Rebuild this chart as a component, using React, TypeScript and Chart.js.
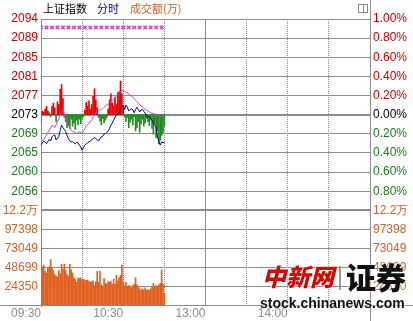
import React, { useEffect, useRef } from 'react';
import { Chart, registerables } from 'chart.js';

Chart.register(...registerables);

// ---------- data ----------
const PREV_CLOSE = 2073.4;
const MARKER_LEVEL = 2092.3;
const VOL_MAX = 121748;

const minutes = [
  0, 1, 2, 3, 4, 5, 6, 7, 8, 9, 10, 11, 12, 13, 14, 15, 16, 17, 18, 19,
  20, 21, 22, 23, 24, 25, 26, 27, 28, 29, 30, 31, 32, 33, 34, 35, 36, 37, 38, 39,
  40, 41, 42, 43, 44, 45, 46, 47, 48, 49, 50, 51, 52, 53, 54, 55, 56, 57, 58, 59,
  60, 61, 62, 63, 64, 65, 66, 67, 68, 69, 70, 71, 72, 73, 74, 75, 76, 77, 78, 79,
  80, 81, 82, 83, 84, 85, 86, 87, 88, 89, 90,
];

const priceLine = [
  2066.8, 2067.3, 2067.7, 2067.4, 2067.1, 2067.6, 2068.0, 2067.7, 2068.6, 2068.9,
  2069.0, 2067.9, 2068.2, 2068.7, 2070.0, 2071.1, 2070.6, 2070.2, 2069.7, 2068.9,
  2068.2, 2067.7, 2067.5, 2067.6, 2067.3, 2067.1, 2067.4, 2067.3, 2066.8, 2066.4,
  2065.7, 2066.3, 2066.8, 2067.1, 2067.3, 2067.5, 2067.7, 2067.9, 2068.2, 2068.4,
  2068.2, 2068.0, 2067.7, 2068.2, 2068.6, 2068.7, 2069.2, 2069.3, 2069.6, 2069.8,
  2070.4, 2071.1, 2071.6, 2072.2, 2072.8, 2073.3, 2073.7, 2073.8, 2074.5, 2075.1,
  2075.5, 2074.5, 2075.5, 2075.0, 2074.2, 2074.5, 2074.7, 2074.4, 2073.8, 2074.5,
  2075.0, 2074.5, 2074.0, 2074.4, 2074.5, 2074.1, 2073.7, 2073.2, 2072.8, 2073.0,
  2072.6, 2072.2, 2071.5, 2071.1, 2070.6, 2068.6, 2067.5, 2066.8, 2067.5, 2067.3,
  2067.4,
];

const avgLine = [
  2067.5, 2067.8, 2068.0, 2068.6, 2069.0, 2069.5, 2070.0, 2070.6, 2071.1, 2070.9,
  2070.6, 2071.2, 2071.8, 2072.6, 2073.3, 2074.0, 2074.4, 2073.7, 2072.6, 2071.8,
  2071.1, 2070.6, 2070.0, 2069.8, 2069.7, 2069.5, 2069.3, 2069.5, 2069.7, 2069.5,
  2069.3, 2069.8, 2070.4, 2070.9, 2071.3, 2071.6, 2071.8, 2072.3, 2072.9, 2073.3,
  2073.8, 2074.0, 2074.2, 2074.4, 2074.5, 2074.7, 2075.0, 2075.3, 2075.5, 2075.7,
  2076.0, 2076.3, 2076.5, 2076.8, 2077.1, 2077.4, 2077.7, 2078.1, 2078.4, 2078.6,
  2078.7, 2078.5, 2078.3, 2078.1, 2077.9, 2077.6, 2077.4, 2077.2, 2076.9, 2076.5,
  2076.2, 2075.9, 2075.5, 2075.3, 2075.0, 2074.7, 2074.5, 2074.4, 2074.2, 2074.0,
  2073.8, 2073.7, 2073.6, 2073.5, 2073.3, 2073.2, 2073.2, 2073.1, 2073.0, 2073.0,
  2072.9,
];

// buy/sell strength bars, index points relative to previous close
const strength = [
  -2.0, 0.8, 0.5, 1.2, 1.8, 0.8, 0.4, -0.5, 1.8, 2.5,
  1.5, -1.5, 2.8, 2.2, 5.5, 6.5, 3.5, -0.6, -1.5, -2.8,
  -2.2, -3.0, -1.0, -2.5, -1.8, -3.2, -1.2, -2.2, -1.0, -2.0,
  -0.8, -0.4, 1.0, 2.6, 1.8, 3.0, 1.2, 2.2, 4.0, 5.6,
  3.2, 1.5, -0.6, -1.4, -2.2, -0.8, -1.8, -1.2, -0.6, 1.2,
  3.2, 4.5, 2.5, 1.8, 3.8, 2.2, 4.8, 5.0, 7.3, 4.5,
  2.0, -0.5, -1.5, -0.6, -2.8, -1.6, -1.0, -2.2, -0.5, -3.5,
  -2.8, -1.5, -3.8, -2.0, -1.0, -2.5, -1.8, -0.8, -1.5, -2.4,
  -1.2, -3.0, -4.2, -2.0, -5.0, -3.5, -6.3, -5.5, -4.5, -4.0,
  -2.5,
];

const volume = [
  113000, 50000, 52000, 44000, 42000, 48000, 50000, 59000, 48000, 45000,
  40000, 38000, 37000, 45000, 41000, 53000, 47000, 53000, 45000, 40000,
  38000, 53000, 46000, 42000, 36000, 34000, 30000, 36000, 35000, 36000,
  34000, 34000, 32000, 33000, 33000, 31000, 30000, 31000, 32000, 26000,
  31000, 44000, 30000, 44000, 27000, 25000, 35000, 29000, 28000, 31000,
  30000, 31000, 28000, 34000, 28000, 39000, 32000, 36000, 39000, 52000,
  30000, 26000, 30000, 24000, 26000, 25000, 23000, 26000, 28000, 36000,
  27000, 24000, 22000, 20000, 22000, 20000, 23000, 20000, 21000, 20000,
  22000, 25000, 29000, 25000, 26000, 24000, 27000, 29000, 46000, 28000,
  16000,
];

const markerMinutes = [0, 4, 8, 12, 16, 20, 24, 28, 32, 36, 40, 44, 48, 52, 56, 60, 64, 68, 72, 76, 80, 84, 88];

const timeTicks = [0, 30, 60, 90, 120, 150, 180, 210, 240];
const timeLabels = ['09:30', '', '10:30', '', '13:00', '', '14:00', '', ''];

const priceTicks = [2094.13, 2089.99, 2085.84, 2081.69, 2077.55, 2073.4, 2069.25, 2065.11, 2060.96, 2056.81, 2052.67];
const priceLabels = ['2094', '2089', '2085', '2081', '2077', '2073', '2069', '2065', '2060', '2056', ''];
const pctTicks = [1, 0.8, 0.6, 0.4, 0.2, 0, -0.2, -0.4, -0.6, -0.8, -1];
const pctLabels = ['1.00%', '0.80%', '0.60%', '0.40%', '0.20%', '0.00%', '0.20%', '0.40%', '0.60%', '0.80%', ''];
const volTicks = [121748, 97398, 73049, 48699, 24350, 0];
const volLabels = ['12.2万', '97398', '73049', '48699', '24350', ''];

// ---------- styles ----------
const RED = '#C40000';
const GREEN = '#1B7A1B';
const ORANGE = '#C8642A';
const GRID = '#8C8C8C';
const FONT = { family: '"Liberation Sans", Arial, sans-serif', size: 12 };
const levelColors = [RED, RED, RED, RED, RED, '#000000', GREEN, GREEN, GREEN, GREEN, GREEN];

const framePlugin = {
  id: 'frame',
  afterDraw(chart: any) {
    const { ctx, chartArea, width, height } = chart;
    ctx.save();
    ctx.strokeStyle = GRID;
    ctx.lineWidth = 1;
    ctx.beginPath();
    const xr = Math.round(chartArea.right) + 0.5;
    ctx.moveTo(xr, 0);
    ctx.lineTo(xr, height);
    const yb = Math.round(chartArea.bottom) - 0.5;
    ctx.moveTo(0, yb);
    ctx.lineTo(width, yb);
    ctx.stroke();
    ctx.restore();
  },
};

export default function App() {
  const ref = useRef<HTMLCanvasElement>(null);

  useEffect(() => {
    const canvas = ref.current;
    if (!canvas) return;
    const chart = new Chart(canvas, {
      type: 'line',
      data: {
        datasets: [
          {
            type: 'line',
            data: markerMinutes.map((m) => ({ x: m, y: MARKER_LEVEL })),
            yAxisID: 'yPrice',
            showLine: false,
            pointStyle: 'crossRot',
            pointRadius: 2.5,
            borderColor: '#D040D0',
            backgroundColor: '#D040D0',
            borderWidth: 1.5,
            order: 0,
          },
          {
            type: 'line',
            data: minutes.map((m, i) => ({ x: m, y: priceLine[i] })),
            yAxisID: 'yPrice',
            borderColor: '#000080',
            borderWidth: 1,
            pointRadius: 0,
            tension: 0,
            order: 1,
          },
          {
            type: 'line',
            data: minutes.map((m, i) => ({ x: m, y: avgLine[i] })),
            yAxisID: 'yPrice',
            borderColor: '#D040D0',
            borderWidth: 1,
            pointRadius: 0,
            tension: 0,
            order: 2,
          },
          {
            type: 'bar',
            data: minutes.map((m, i) => ({ x: m, y: [PREV_CLOSE, PREV_CLOSE + strength[i]] })),
            yAxisID: 'yPrice',
            backgroundColor: strength.map((d) => (d >= 0 ? '#EE0000' : '#228B22')),
            borderWidth: 0,
            barThickness: 1,
            grouped: false,
            order: 3,
          } as any,
          {
            type: 'bar',
            data: minutes.map((m, i) => ({ x: m, y: volume[i] })),
            yAxisID: 'yVol',
            backgroundColor: '#E0601E',
            borderWidth: 0,
            barThickness: 1,
            grouped: false,
            order: 4,
          } as any,
        ],
      },
      options: {
        responsive: false,
        devicePixelRatio: 1,
        animation: false,
        layout: { padding: { top: 19, left: 0, right: 0, bottom: 0 } },
        plugins: { legend: { display: false }, tooltip: { enabled: false }, title: { display: false } },
        scales: {
          x: {
            type: 'linear',
            position: 'bottom',
            min: 0,
            max: 240,
            offset: false,
            afterBuildTicks: (s: any) => { s.ticks = timeTicks.map((v) => ({ value: v })); },
            afterFit: (s: any) => { s.height = 15; },
            ticks: {
              autoSkip: false,
              maxRotation: 0,
              align: 'end',
              padding: 0,
              color: '#8C8C8C',
              font: FONT,
              callback: (_v: any, i: number) => timeLabels[i],
            },
            grid: {
              offset: false,
              drawTicks: false,
              color: GRID,
              lineWidth: (c: any) => ([0, 120, 240].includes(c.tick?.value) ? 0 : 1),
            },
            border: { display: false, dash: [1, 1] },
          },
          x2: {
            type: 'linear',
            position: 'bottom',
            min: 0,
            max: 240,
            offset: false,
            afterBuildTicks: (s: any) => { s.ticks = [{ value: 120 }]; },
            afterFit: (s: any) => { s.height = 0; },
            ticks: { display: false },
            grid: { offset: false, drawTicks: false, color: GRID, lineWidth: 1 },
            border: { display: false },
          },
          yPrice: {
            type: 'linear',
            position: 'left',
            stack: 'panels',
            stackWeight: 10,
            weight: 2,
            min: priceTicks[priceTicks.length - 1],
            max: priceTicks[0],
            afterBuildTicks: (s: any) => { s.ticks = priceTicks.map((v) => ({ value: v })); },
            afterFit: (s: any) => { s.width = 41; },
            ticks: {
              autoSkip: false,
              padding: 3,
              font: FONT,
              color: (c: any) => levelColors[c.index],
              callback: (_v: any, i: number) => priceLabels[i],
            },
            grid: {
              drawTicks: false,
              color: GRID,
              lineWidth: (c: any) => (c.index === 5 ? 2 : c.index === 10 ? 0 : 1),
            },
            border: { display: true, color: GRID },
          },
          yVol: {
            type: 'linear',
            position: 'left',
            stack: 'panels',
            stackWeight: 5,
            weight: 1,
            min: 0,
            max: VOL_MAX,
            afterBuildTicks: (s: any) => { s.ticks = volTicks.map((v) => ({ value: v })); },
            afterFit: (s: any) => { s.width = 41; },
            ticks: {
              autoSkip: false,
              padding: 3,
              font: FONT,
              color: ORANGE,
              callback: (_v: any, i: number) => volLabels[i],
            },
            grid: {
              drawTicks: false,
              color: GRID,
              lineWidth: (c: any) => (c.index === 0 ? 2 : c.index === 5 ? 0 : 1),
            },
            border: { display: true, color: GRID },
          },
          yPct: {
            type: 'linear',
            position: 'right',
            stack: 'panelsR',
            stackWeight: 10,
            weight: 1,
            min: -1,
            max: 1,
            afterBuildTicks: (s: any) => { s.ticks = pctTicks.map((v) => ({ value: v })); },
            afterFit: (s: any) => { s.width = 43; },
            ticks: {
              autoSkip: false,
              padding: 3,
              font: FONT,
              color: (c: any) => levelColors[c.index],
              callback: (_v: any, i: number) => pctLabels[i],
            },
            grid: { display: false, drawTicks: false },
            border: { display: false },
          },
          yVolR: {
            type: 'linear',
            position: 'right',
            stack: 'panelsR',
            stackWeight: 5,
            weight: 2,
            min: 0,
            max: VOL_MAX,
            afterBuildTicks: (s: any) => { s.ticks = volTicks.map((v) => ({ value: v })); },
            afterFit: (s: any) => { s.width = 43; },
            ticks: {
              autoSkip: false,
              padding: 3,
              font: FONT,
              color: ORANGE,
              callback: (_v: any, i: number) => volLabels[i],
            },
            grid: { display: false, drawTicks: false },
            border: { display: false },
          },
        },
      } as any,
      plugins: [framePlugin],
    });
    return () => chart.destroy();
  }, []);

  const cjk = '"Noto Sans CJK SC", "Noto Sans", sans-serif';
  return (
    <div style={{ position: 'absolute', left: 0, top: 0, width: 413, height: 321, background: '#fff', overflow: 'hidden' }}>
      <canvas ref={ref} width={413} height={321} style={{ display: 'block', width: 413, height: 321 }} />
      <div style={{ position: 'absolute', left: 43, top: 1, fontFamily: cjk, fontSize: 11, lineHeight: '14px', whiteSpace: 'nowrap' }}>
        <span style={{ color: '#000' }}>上证指数</span>
        <span style={{ color: '#000080', marginLeft: 10 }}>分时</span>
        <span style={{ color: ORANGE, marginLeft: 11 }}>成交额(万)</span>
      </div>
      <div style={{ position: 'absolute', left: 358, top: 4, width: 8, height: 7, border: '1px solid #8C8C8C' }}>
        <div style={{ position: 'absolute', left: 4, top: 0, width: 0, height: 7, borderLeft: '1px solid #8C8C8C' }} />
      </div>
      <div style={{ position: 'absolute', left: 262, top: 262, fontFamily: cjk, fontSize: 24, fontWeight: 900, lineHeight: '28px', color: '#D80000', fontStyle: 'italic', textShadow: '0 0 2px #fff, 0 0 2px #fff', whiteSpace: 'nowrap' }}>
        中新网
      </div>
      <div style={{ position: 'absolute', left: 339, top: 266, width: 0, height: 24, borderLeft: '2px solid #9A9A9A' }} />
      <div style={{ position: 'absolute', left: 346, top: 260, fontFamily: cjk, fontSize: 30, fontWeight: 900, lineHeight: '32px', color: '#111', textShadow: '0 0 2px #fff, 0 0 2px #fff', whiteSpace: 'nowrap' }}>
        证券
      </div>
      <div style={{ position: 'absolute', left: 260, top: 296, fontFamily: '"Liberation Sans", Arial, sans-serif', fontSize: 14, fontWeight: 700, lineHeight: '15px', color: '#111', textShadow: '0 0 2px #fff, 0 0 2px #fff', whiteSpace: 'nowrap' }}>
        stock.chinanews.com
      </div>
    </div>
  );
}
